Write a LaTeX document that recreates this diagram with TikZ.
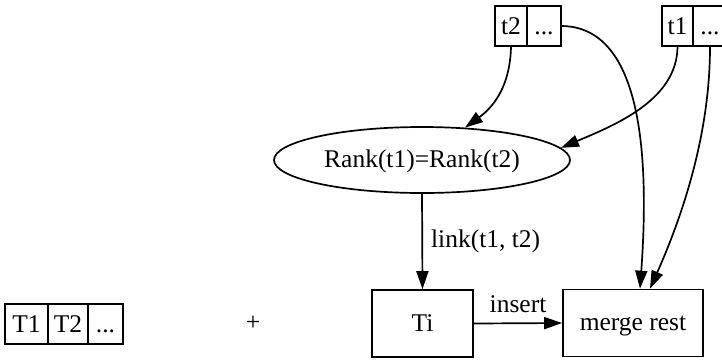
\documentclass[tikz,border=0pt]{standalone}
\usepackage{fontspec}
\setmainfont{Liberation Serif}
\usetikzlibrary{arrows.meta,shapes.geometric}
\begin{document}
\begin{tikzpicture}[x=1pt,y=-1pt,
  font=\fontsize{25.5}{30}\selectfont,
  cell/.style={draw, line width=1.7pt, inner sep=0pt, minimum height=40pt, text height=20pt, text depth=4pt},
  boxnode/.style={draw, line width=1.7pt, inner sep=0pt, minimum width=101pt, minimum height=67pt, text height=19pt, text depth=4pt},
  ovalnode/.style={ellipse, draw, line width=1.7pt, inner sep=0pt, minimum width=296pt, minimum height=66pt, text height=19pt, text depth=4pt},
  edge/.style={line width=1.7pt, -{Triangle[length=18pt,width=12pt]}},
  lbl/.style={inner sep=0pt}
]
\useasboundingbox (0,0) rectangle (722,360);
% records top
\node[cell, minimum width=32pt] (t2a) at (511,26) {t2};
\node[cell, minimum width=34pt] (t2b) at (544,26) {...};
\node[cell, minimum width=31pt] (t1a) at (677.5,26) {t1};
\node[cell, minimum width=34pt] (t1b) at (710,26) {...};
% ellipse
\node[ovalnode] (rank) at (422,160) {Rank(t1)=Rank(t2)};
% bottom row
\node[cell, minimum width=43pt] (T1) at (26.5,324) {T1};
\node[cell, minimum width=40pt] (T2) at (68,324) {T2};
\node[cell, minimum width=35pt] (T3) at (105.5,324) {...};
\node[lbl] (plus) at (253,323) {+};
\node[boxnode] (ti) at (422.5,323.5) {Ti};
\node[boxnode, minimum width=140pt] (merge) at (633,323) {merge rest};
% edges
\draw[edge] (t2a.south) .. controls (510,88) and (492,108) .. (rank.37);
\draw[edge] (t1a.south) .. controls (677,100) and (615,125) .. (rank.5);
\draw[edge] (t2b.east) .. controls (640,27) and (650,150) .. ([xshift=7pt]merge.north);
\draw[edge] (t1b.south) .. controls (710,130) and (685,210) .. ([xshift=17pt]merge.north);
\draw[edge] (rank.south) -- node[lbl, anchor=west, xshift=8pt] (l1) {link(t1, t2)} (ti.north);
\draw[edge] (ti.east) -- node[lbl, anchor=base, yshift=11pt] (l2) {insert} (merge.west);
\end{tikzpicture}
\end{document}
